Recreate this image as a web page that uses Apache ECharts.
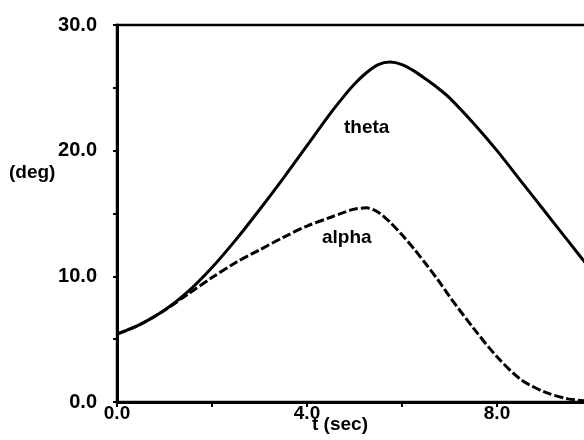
<!DOCTYPE html>
<html>
<head>
<meta charset="utf-8">
<script src="https://cdn.jsdelivr.net/npm/echarts@6/dist/echarts.min.js"></script>
<style>
html,body{margin:0;padding:0;background:#fff;}
#chart{width:584px;height:440px;}
</style>
</head>
<body>
<div id="chart"></div>
<script>
const tValues     = [0, 0.5, 1, 1.5, 2, 2.5, 3, 3.5, 4, 4.5, 4.75, 5, 5.25, 5.5, 5.75, 6, 6.25, 6.5, 6.75, 7, 7.5, 8, 8.5, 9, 9.5, 10];
const thetaValues = [5.4, 6.2, 7.3, 8.8, 10.7, 12.9, 15.3, 17.8, 20.4, 23.0, 24.2, 25.3, 26.2, 26.85, 27.05, 26.85, 26.35, 25.7, 25.0, 24.2, 22.2, 20.0, 17.6, 15.2, 12.8, 10.4];
const alphaValues = [5.4, 6.2, 7.3, 8.6, 9.9, 11.1, 12.1, 13.1, 14.0, 14.7, 15.05, 15.35, 15.45, 15.1, 14.3, 13.3, 12.2, 11.0, 9.75, 8.4, 5.9, 3.6, 1.8, 0.8, 0.25, 0.05];
const xTickLabels = ['0.0', '4.0', '8.0'];
const yTickLabels = ['0.0', '10.0', '20.0', '30.0'];
const seriesNames = ['theta', 'alpha'];
const xAxisTitle = 't (sec)';
const yAxisTitle = '(deg)';

const FONT = 'Liberation Sans, Arial, sans-serif';
const pairs = (vals) => tValues.map((t, i) => [t, vals[i]]);

const chart = echarts.init(document.getElementById('chart'), null, {renderer: 'canvas'});
chart.setOption({
  backgroundColor: '#fff',
  animation: false,
  grid: {left: 117, top: 25, width: 475, height: 377, outerBoundsMode: 'none', containLabel: false,
         show: true, borderColor: '#000', borderWidth: 2.5, backgroundColor: 'transparent'},
  xAxis: {
    type: 'value', min: 0, max: 10, interval: 2,
    axisLine: {show: true, onZero: false, lineStyle: {color: '#000', width: 3}},
    axisTick: {show: true, inside: false, length: 5, lineStyle: {color: '#000', width: 2}},
    splitLine: {show: false},
    axisLabel: {
      color: '#000', fontFamily: FONT, fontWeight: 'bold', fontSize: 19, margin: 2,
      formatter: (v) => { const s = v.toFixed(1); return xTickLabels.includes(s) ? s : ''; }
    }
  },
  yAxis: {
    type: 'value', min: 0, max: 30, interval: 5,
    axisLine: {show: true, onZero: false, lineStyle: {color: '#000', width: 3}},
    axisTick: {show: true, inside: false, length: 4, lineStyle: {color: '#000', width: 2}},
    splitLine: {show: false},
    axisLabel: {
      color: '#000', fontFamily: FONT, fontWeight: 'bold', fontSize: 20, margin: 20,
      formatter: (v) => { const s = v.toFixed(1); return yTickLabels.includes(s) ? s : ''; }
    }
  },
  graphic: [
    {type: 'text', left: 9, top: 163, style: {text: yAxisTitle, fill: '#000', font: 'bold 19px ' + FONT}},
    {type: 'text', left: 312, top: 415, style: {text: xAxisTitle, fill: '#000', font: 'bold 19px ' + FONT}},
    {type: 'text', left: 344, top: 118, style: {text: seriesNames[0], fill: '#000', font: 'bold 19px ' + FONT}},
    {type: 'text', left: 322, top: 228, style: {text: seriesNames[1], fill: '#000', font: 'bold 19px ' + FONT}}
  ],
  series: [
    {
      name: seriesNames[0], type: 'line', data: pairs(thetaValues), smooth: 0.3,
      showSymbol: false, clip: true,
      lineStyle: {color: '#000', width: 3, type: 'solid'}
    },
    {
      name: seriesNames[1], type: 'line', data: pairs(alphaValues), smooth: 0.3,
      showSymbol: false, clip: true,
      lineStyle: {color: '#000', width: 3, type: [9, 3]}
    }
  ]
});
</script>
</body>
</html>
